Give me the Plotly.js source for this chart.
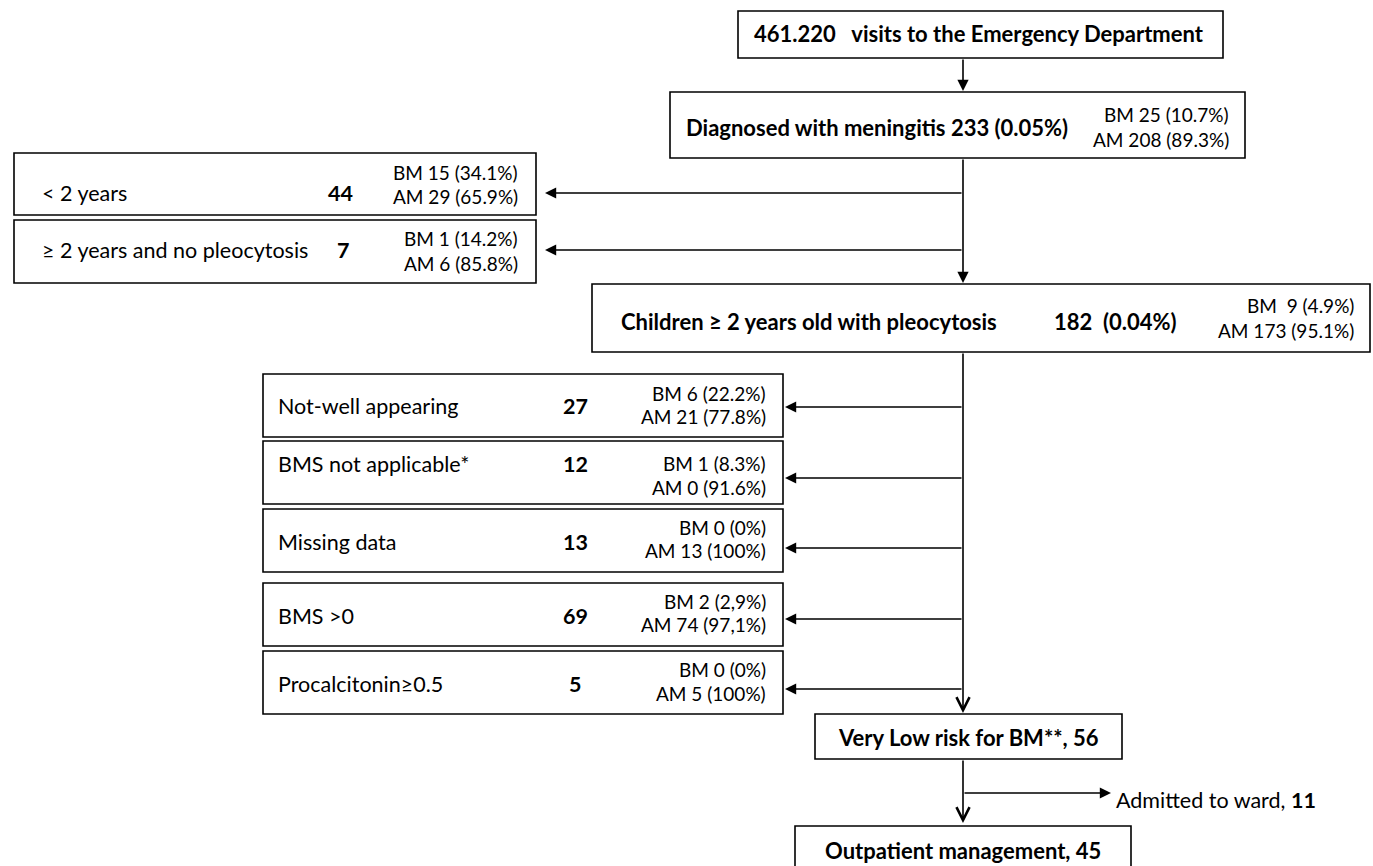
<!DOCTYPE html>
<html>
<head>
<meta charset="utf-8">
<script src="https://cdn.plot.ly/plotly-3.0.1.min.js"></script>
<style>html,body{margin:0;padding:0;background:#fff;}#chart{width:1373px;height:866px;}</style>
</head>
<body>
<div id="chart"></div>
<script>
// ---------- DATA ----------
const flowTitles = ['461.220   visits to the Emergency Department', 'Diagnosed with meningitis 233 (0.05%)', 'Children ≥ 2 years old with pleocytosis', 'Very Low risk for BM**, 56', 'Outpatient management, 45'];
const flowCount = ['', '', '182  (0.04%)', '', ''];
const flowBM = ['', 'BM 25 (10.7%)', 'BM  9 (4.9%)', '', ''];
const flowAM = ['', 'AM 208 (89.3%)', 'AM 173 (95.1%)', '', ''];

const earlyLabels = ['< 2 years', '≥ 2 years and no pleocytosis'];
const earlyCounts = ['44', '7'];
const earlyBM = ['BM 15 (34.1%)', 'BM 1 (14.2%)'];
const earlyAM = ['AM 29 (65.9%)', 'AM 6 (85.8%)'];

const exclLabels = ['Not-well appearing', 'BMS not applicable*', 'Missing data', 'BMS >0', 'Procalcitonin≥0.5'];
const exclCounts = ['27', '12', '13', '69', '5'];
const exclBM = ['BM 6 (22.2%)', 'BM 1 (8.3%)', 'BM 0 (0%)', 'BM 2 (2,9%)', 'BM 0 (0%)'];
const exclAM = ['AM 21 (77.8%)', 'AM 0 (91.6%)', 'AM 13 (100%)', 'AM 74 (97,1%)', 'AM 5 (100%)'];

const admittedLabel = 'Admitted to ward, ';
const admittedCount = '11';

// ---------- LAYOUT GEOMETRY ----------
const FONT = 'Lato, "Open Sans", sans-serif';
const BIG = 22, MID = 21.5, SMALL = 19;
const LW = 1.6;
const spineX = 963;

const flowBoxes = [
  {x0: 738, x1: 1223, y0: 11, y1: 58, tx: 979, ty: 33},
  {x0: 670, x1: 1245, y0: 92, y1: 158, tx: 877, ty: 127, sx: 1231, by: 114, ay: 139},
  {x0: 592, x1: 1370, y0: 284, y1: 352, tx: 809, ty: 321, cx: 1115, sx: 1356, by: 305, ay: 330},
  {x0: 815, x1: 1122, y0: 714, y1: 759, tx: 968, ty: 737},
  {x0: 795, x1: 1131, y0: 826, y1: 900, tx: 963, ty: 850}
];
const earlyBoxes = [
  {y0: 153, y1: 215, ty: 193, by: 172, ay: 196, ar: 193, cx: 340},
  {y0: 220, y1: 283, ty: 250, by: 238, ay: 263, ar: 250, cx: 343}
];
const exclBoxes = [
  {y0: 374, y1: 437, ty: 406, by: 393, ay: 416, ar: 407},
  {y0: 441, y1: 504, ty: 464, by: 463, ay: 487, ar: 478},
  {y0: 509, y1: 572, ty: 542, by: 527, ay: 550, ar: 548},
  {y0: 583, y1: 646, ty: 616, by: 601, ay: 624, ar: 619},
  {y0: 651, y1: 714, ty: 684, by: 669, ay: 693, ar: 689}
];

const shapes = [];
const annotations = [];
function rect(x0, y0, x1, y1) {
  shapes.push({type: 'rect', xref: 'x', yref: 'y', x0: x0, x1: x1, y0: y0, y1: y1,
    line: {color: '#000', width: LW}, fillcolor: 'rgba(0,0,0,0)'});
}
function text(t, x, y, anchor, size) {
  annotations.push({text: t, x: x, y: y, xref: 'x', yref: 'y', showarrow: false,
    xanchor: anchor, yanchor: 'middle', align: anchor === 'right' ? 'right' : 'left',
    font: {family: FONT, size: size, color: '#000'}});
}
function arrow(xTail, yTail, xHead, yHead, head) {
  annotations.push({text: '', x: xHead, y: yHead, ax: xTail, ay: yTail,
    xref: 'x', yref: 'y', axref: 'x', ayref: 'y', showarrow: true,
    arrowhead: head, arrowsize: head === 5 ? 1.6 : 1.4, arrowwidth: LW, arrowcolor: '#000', standoff: 0, startstandoff: 0});
}

// main flow boxes
flowBoxes.forEach(function (b, i) {
  rect(b.x0, b.y0, b.x1, b.y1);
  text('<b>' + flowTitles[i] + '</b>', b.tx, b.ty, 'center', BIG);
  if (flowCount[i]) text('<b>' + flowCount[i] + '</b>', b.cx, b.ty, 'center', BIG);
  if (flowBM[i]) text(flowBM[i], b.sx, b.by, 'right', SMALL);
  if (flowAM[i]) text(flowAM[i], b.sx, b.ay, 'right', SMALL);
});

// early exclusions (left)
earlyBoxes.forEach(function (b, i) {
  rect(14, b.y0, 536, b.y1);
  text(earlyLabels[i], 40, b.ty, 'left', MID);
  text('<b>' + earlyCounts[i] + '</b>', b.cx, b.ty, 'center', MID);
  text(earlyBM[i], 520, b.by, 'right', SMALL);
  text(earlyAM[i], 520, b.ay, 'right', SMALL);
  arrow(spineX, b.ar, 545, b.ar, 2);
});

// BMS exclusions (middle)
exclBoxes.forEach(function (b, i) {
  rect(263, b.y0, 783, b.y1);
  text(exclLabels[i], 276, b.ty, 'left', MID);
  text('<b>' + exclCounts[i] + '</b>', 575, b.ty, 'center', MID);
  text(exclBM[i], 768, b.by, 'right', SMALL);
  text(exclAM[i], 768, b.ay, 'right', SMALL);
  arrow(spineX, b.ar, 785, b.ar, 2);
});

// spine arrows
arrow(spineX, 58, spineX, 91, 2);
arrow(spineX, 158, spineX, 283, 2);
arrow(spineX, 352, spineX, 713, 5);
arrow(spineX, 759, spineX, 823, 5);
arrow(spineX, 793, 1111, 793, 2);
text(admittedLabel + '<b>' + admittedCount + '</b>', 1114, 800, 'left', MID);

const layout = {
  width: 1373, height: 866,
  margin: {l: 0, r: 0, t: 0, b: 0},
  paper_bgcolor: '#fff', plot_bgcolor: '#fff',
  xaxis: {range: [0, 1373], visible: false, fixedrange: true},
  yaxis: {range: [866, 0], visible: false, fixedrange: true},
  showlegend: false,
  shapes: shapes,
  annotations: annotations
};
Plotly.newPlot('chart', [], layout, {staticPlot: true, displayModeBar: false});
</script>
</body>
</html>
